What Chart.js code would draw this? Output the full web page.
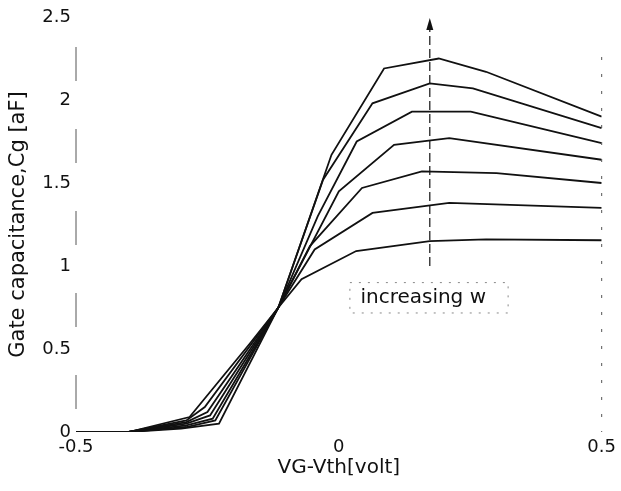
<!DOCTYPE html>
<html>
<head>
<meta charset="utf-8">
<title>Gate capacitance</title>
<script src="https://cdn.jsdelivr.net/npm/chart.js@4.4.0/dist/chart.umd.min.js"></script>
<style>
  body { margin: 0; background: #fff; }
  #wrap { width: 621px; height: 491px; }
</style>
</head>
<body>
<div id="wrap"><canvas id="myChart"></canvas></div>
<script>
// curves, smallest w first (VG-Vth in volt, Cg in aF)
const vg1 = [-0.5, -0.4, -0.284, -0.17, -0.115, -0.071, 0.033, 0.173, 0.28, 0.5];
const cg1 = [0, 0, 0.09, 0.53, 0.75, 0.92, 1.09, 1.15, 1.16, 1.155];

const vg2 = [-0.5, -0.4, -0.29, -0.255, -0.115, -0.046, 0.064, 0.21, 0.5];
const cg2 = [0, 0, 0.07, 0.15, 0.75, 1.10, 1.32, 1.38, 1.35];

const vg3 = [-0.5, -0.4, -0.29, -0.25, -0.115, -0.055, 0.044, 0.158, 0.30, 0.5];
const cg3 = [0, 0, 0.06, 0.12, 0.75, 1.12, 1.47, 1.57, 1.56, 1.50];

const vg4 = [-0.5, -0.4, -0.29, -0.245, -0.115, 0.0, 0.105, 0.21, 0.5];
const cg4 = [0, 0, 0.05, 0.10, 0.75, 1.45, 1.73, 1.77, 1.64];

const vg5 = [-0.5, -0.4, -0.29, -0.24, -0.115, -0.04, 0.034, 0.139, 0.251, 0.5];
const cg5 = [0, 0, 0.04, 0.08, 0.75, 1.30, 1.75, 1.93, 1.93, 1.74];

const vg6 = [-0.5, -0.4, -0.29, -0.235, -0.115, -0.03, 0.064, 0.173, 0.255, 0.5];
const cg6 = [0, 0, 0.03, 0.07, 0.75, 1.52, 1.98, 2.10, 2.07, 1.83];

const vg7 = [-0.5, -0.4, -0.3, -0.228, -0.115, -0.014, 0.086, 0.19, 0.28, 0.5];
const cg7 = [0, 0, 0.02, 0.05, 0.75, 1.67, 2.19, 2.25, 2.17, 1.90];

// "increasing w" arrow
const arrowVg = [0.173, 0.173];
const arrowCg = [1.0, 2.44];

const annText = 'increasing w';

const curves = [[vg1, cg1], [vg2, cg2], [vg3, cg3], [vg4, cg4], [vg5, cg5], [vg6, cg6], [vg7, cg7]];

function pts(xs, ys) {
    return xs.map((x, i) => ({ x: x, y: ys[i] }));
}

const datasets = curves.map(c => ({
    data: pts(c[0], c[1]),
    borderColor: '#111',
    borderWidth: 1.8,
    pointRadius: 0,
    showLine: true,
    fill: false,
    tension: 0
}));

datasets.push({
    data: pts(arrowVg, arrowCg),
    borderColor: '#222',
    borderWidth: 1.3,
    borderDash: [9, 4],
    pointRadius: 0,
    showLine: true,
    fill: false
});

const FONT = 'DejaVu Sans';

// arrow head, text box and the broken frame of the scan
const extras = {
    id: 'extras',
    afterDatasetsDraw(chart) {
        const ctx = chart.ctx;
        const xs = chart.scales.x, ys = chart.scales.y;
        const area = chart.chartArea;
        ctx.save();

        // arrow head
        const ax = xs.getPixelForValue(arrowVg[1]);
        const ay = ys.getPixelForValue(arrowCg[1]);
        ctx.fillStyle = '#111';
        ctx.beginPath();
        ctx.moveTo(ax, ay - 9);
        ctx.lineTo(ax - 3.5, ay + 3);
        ctx.lineTo(ax + 3.5, ay + 3);
        ctx.closePath();
        ctx.fill();

        // dashed box round the label
        const bx0 = xs.getPixelForValue(0.021), bx1 = xs.getPixelForValue(0.322);
        const by0 = ys.getPixelForValue(0.90), by1 = ys.getPixelForValue(0.717);
        ctx.strokeStyle = '#888';
        ctx.lineWidth = 1;
        ctx.setLineDash([2, 7]);
        ctx.strokeRect(bx0, by0, bx1 - bx0, by1 - by0);

        // label
        ctx.setLineDash([]);
        ctx.fillStyle = '#111';
        ctx.font = '20px "' + FONT + '"';
        ctx.textBaseline = 'alphabetic';
        ctx.textAlign = 'left';
        ctx.fillText(annText, xs.getPixelForValue(0.041), ys.getPixelForValue(0.777));

        // left and right borders, only fragments survive in the scan
        ctx.strokeStyle = '#555';
        ctx.setLineDash([3, 14]);
        ctx.beginPath();
        ctx.moveTo(area.right, area.top + 40);
        ctx.lineTo(area.right, area.bottom);
        ctx.stroke();
        ctx.setLineDash([34, 48]);
        ctx.beginPath();
        ctx.moveTo(area.left, area.top + 30);
        ctx.lineTo(area.left, area.bottom);
        ctx.stroke();
        ctx.restore();
    }
};

new Chart(document.getElementById('myChart'), {
    type: 'scatter',
    data: { datasets: datasets },
    options: {
        responsive: true,
        maintainAspectRatio: false,
        animation: false,
        layout: { padding: { top: 17, right: 14, left: 0, bottom: 0 } },
        plugins: {
            legend: { display: false },
            tooltip: { enabled: false }
        },
        scales: {
            x: {
                type: 'linear',
                min: -0.5,
                max: 0.5,
                afterFit: (s) => { s.height = 59; },
                grid: { display: false, drawTicks: false },
                border: { display: false },
                ticks: {
                    stepSize: 0.5,
                    padding: 5,
                    color: '#111',
                    font: { family: FONT, size: 18 },
                    callback: (v) => String(v)
                },
                title: {
                    display: true,
                    text: 'VG-Vth[volt]',
                    color: '#111',
                    font: { family: FONT, size: 20 },
                    padding: { top: 0, bottom: 11 }
                }
            },
            y: {
                type: 'linear',
                min: 0,
                max: 2.5,
                afterFit: (s) => { s.width = 76; },
                grid: { display: false, drawTicks: false },
                border: { display: false },
                ticks: {
                    stepSize: 0.5,
                    padding: 5,
                    color: '#111',
                    font: { family: FONT, size: 18 },
                    callback: (v) => String(v)
                },
                title: {
                    display: true,
                    text: 'Gate capacitance,Cg [aF]',
                    color: '#111',
                    font: { family: FONT, size: 21 },
                    padding: { top: 6, bottom: 0 }
                }
            }
        }
    },
    plugins: [extras]
});
</script>
</body>
</html>
